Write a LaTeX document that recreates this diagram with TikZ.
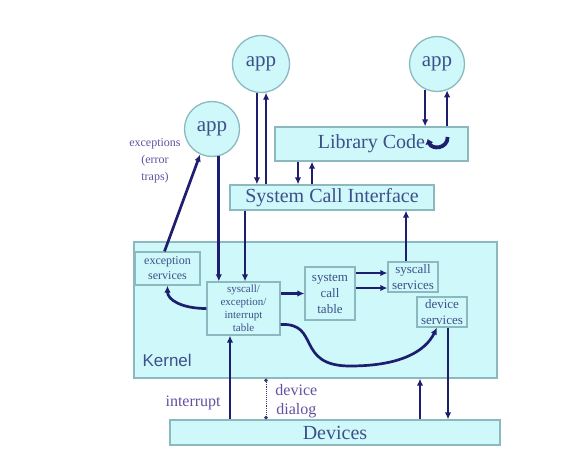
\documentclass[tikz,border=0pt]{standalone}
\usepackage{fontspec}
\setmainfont{Liberation Serif}
\newfontfamily\kernelfont{Liberation Sans}
\usetikzlibrary{arrows.meta}
\definecolor{boxfill}{RGB}{206,248,250}
\definecolor{boxline}{RGB}{140,184,192}
\definecolor{boxtext}{RGB}{62,80,138}
\definecolor{linkcol}{RGB}{30,30,110}
\definecolor{notecol}{RGB}{100,80,160}

\begin{document}
\begin{tikzpicture}[x=1pt,y=-1pt,>=Latex,
  box/.style={draw=boxline,line width=1.3pt,fill=boxfill,text=boxtext,
    inner sep=0pt,align=center},
  big/.style={font=\fontsize{20}{22}\selectfont},
  small/.style={font=\fontsize{12}{15}\selectfont},
  app/.style={box,circle,minimum size=57pt,font=\fontsize{21}{22}\selectfont},
  link/.style={draw=linkcol,line width=2.7pt,-{Latex[length=7pt,width=6.5pt]}},
  note/.style={text=notecol,align=center,inner sep=0pt,
    font=\fontsize{16}{19}\selectfont}]
  \useasboundingbox (0,0) rectangle (567,468);

  % kernel and devices
  \node[box,minimum width=363pt,minimum height=136pt] (kernel) at (315.5,310) {};
  \node[box,big,minimum width=330pt,minimum height=25pt] (devices) at (335,432.5) {Devices};
  \node[anchor=west,text=boxtext,inner sep=0pt,font=\kernelfont\fontsize{17}{20}\selectfont]
    (kname) at ([shift={(9pt,18pt)}]kernel.south west) {Kernel};

  % user side
  \node[app] (app1) at (261,64) {app};
  \node[app,minimum size=55pt] (app2) at (437,64) {app};
  \node[app,minimum size=55pt] (app3) at (212,129) {app};
  \node[box,big,minimum width=193pt,minimum height=34pt] (lib) at (371.5,144) {Library Code};
  \node[box,big,minimum width=204pt,minimum height=25pt] (sci) at (332,197.5) {System Call Interface};

  % inside the kernel
  \node[box,small,minimum width=65pt,minimum height=33pt] (excserv) at (167.5,268.5)
    {exception\\services};
  \node[box,minimum width=73pt,minimum height=53pt,font=\fontsize{11}{13}\selectfont]
    (table) at (243.5,308.5) {syscall/\\exception/\\interrupt\\table};
  \node[box,small,minimum width=50pt,minimum height=53pt,font=\fontsize{13}{16}\selectfont]
    (sct) at (330,293.5) {system\\call\\table};
  \node[box,minimum width=50pt,minimum height=30pt,font=\fontsize{13}{15.5}\selectfont]
    (scserv) at (413,277) {syscall\\services};
  \node[box,minimum width=50pt,minimum height=30pt,font=\fontsize{13}{15.5}\selectfont]
    (devserv) at (442,312) {device\\services};

  \node[note,font=\fontsize{12}{17}\selectfont] (exclbl) at (155,161)
    {exceptions\\(error\\traps)};

  % columns for the vertical links
  \coordinate (x230) at (230,0);
  \coordinate (x245) at (245,0);
  \coordinate (x266) at (266,0);
  \coordinate (x298) at (298,0);
  \coordinate (x312) at (312,0);
  \coordinate (x406) at (406,0);
  \coordinate (x420) at (420,0);
  \coordinate (x448) at (448,0);
  \coordinate (r1) at ([yshift=4pt]scserv.west);
  \coordinate (r2) at ([yshift=-11pt]scserv.west);

  % app to system call interface
  \draw[link] (app1.262) -- (app1.262 |- sci.north);
  \draw[link] (app1.280 |- sci.north) -- (app1.280);
  % app to library
  \draw[link] (app2.245) -- (app2.245 |- lib.north);
  \draw[link] (app2.291 |- lib.north) -- (app2.291);
  \draw[linkcol,line width=3.8pt,{Latex[length=5pt,width=9pt]}-]
    ([shift={(-41pt,5pt)}]lib.east) .. controls +(4pt,-11pt) and +(0pt,-12pt)
    .. ([shift={(-21pt,7pt)}]lib.east);
  % library to system call interface
  \draw[link] (x298 |- lib.south) -- (x298 |- sci.north);
  \draw[link] (x312 |- sci.north) -- (x312 |- lib.south);

  % into the kernel
  \draw[link] (x245 |- sci.south) -- (x245 |- table.north);
  \draw[link] (app3.284) -- (app3.284 |- table.north);
  \draw[link] ([xshift=-3pt]excserv.north) -- (app3.245);
  \draw[link] (table.west) .. controls +(-25,0) and +(0,14) .. (excserv.south);
  \draw[link] (table.east |- sct.west) -- (sct.west);
  \draw[link] (r1 -| sct.east) -- (r1);
  \draw[link] (r2 -| sct.east) -- (r2);
  \draw[link] (x406 |- scserv.north) -- (x406 |- sci.south);
  \draw[link] ([yshift=-16pt]table.east) .. controls +(40,-2) and +(-55,0) .. (350,366)
    .. controls +(50,0) and +(-12,24) .. ([xshift=-5pt]devserv.south);

  % kernel and devices
  \draw[link] (x448 |- devserv.south) -- (x448 |- devices.north);
  \draw[link] (x420 |- devices.north) -- (x420 |- kernel.south);
  \draw[link] (x230 |- devices.north) -- (x230 |- table.south)
    node[note,pos=0.2,left=8pt] {interrupt};
  \draw[densely dotted,linkcol!70!gray,line width=0.9pt,{Circle[length=3.5pt]}-{Circle[length=3.5pt]}]
    (x266 |- kernel.south) -- (x266 |- devices.north)
    node[note,pos=0.55,right=9pt] {device\\dialog};
\end{tikzpicture}
\end{document}
